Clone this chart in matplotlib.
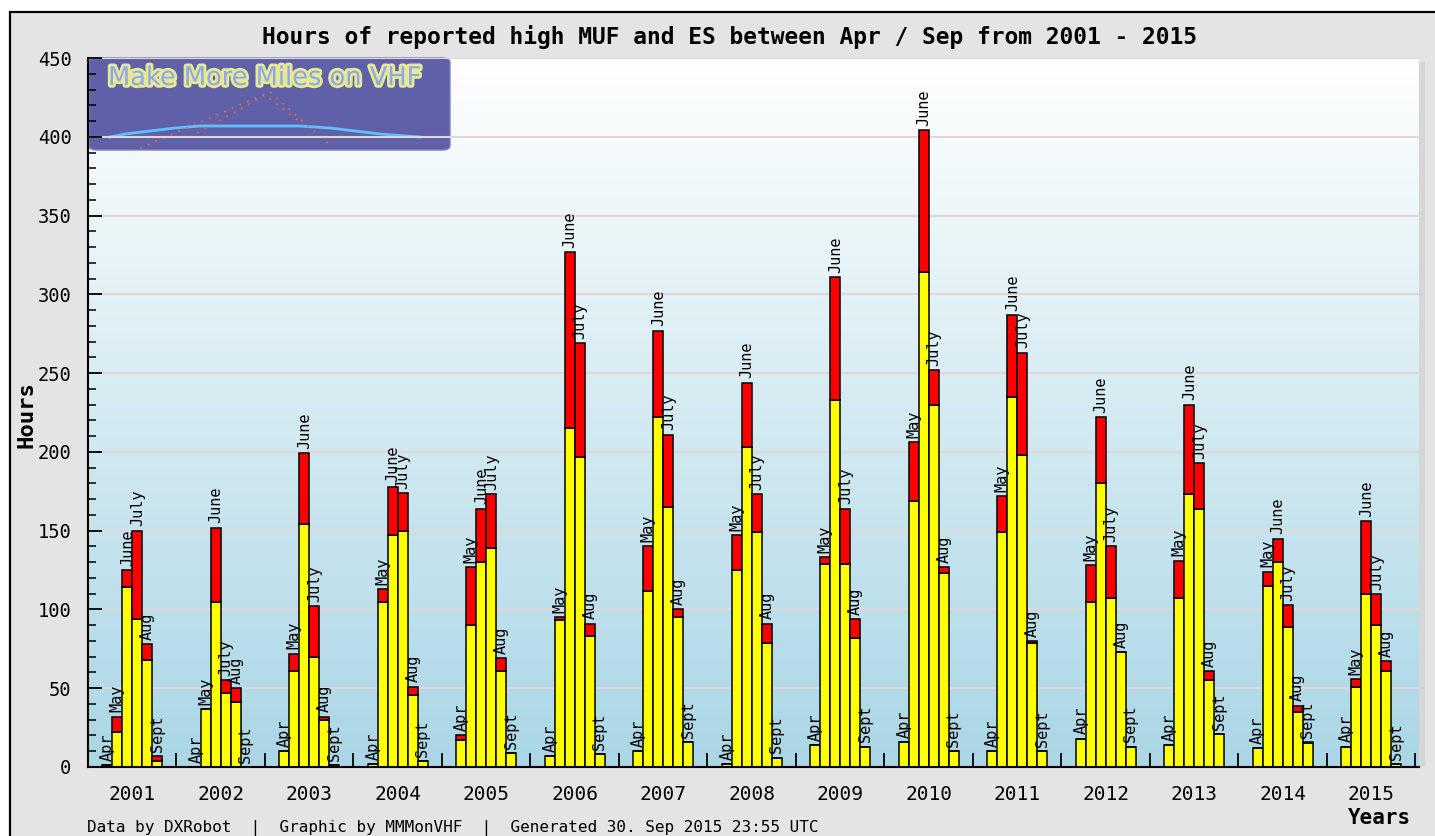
import numpy as np
import matplotlib
matplotlib.use("Agg")
import matplotlib.pyplot as plt
from matplotlib.colors import LinearSegmentedColormap
from matplotlib.patches import Rectangle, FancyBboxPatch
from matplotlib.lines import Line2D
import matplotlib.patheffects as pe

years = ["2001", "2002", "2003", "2004", "2005", "2006", "2007", "2008",
         "2009", "2010", "2011", "2012", "2013", "2014", "2015"]
months = ["Apr", "May", "June", "July", "Aug", "Sept"]

# yellow part of each bar (Apr..Sept)
yellow_hours = [
    [1, 22, 114, 94, 68, 4],
    [0, 37, 105, 47, 41, 0],
    [10, 61, 154, 70, 30, 1],
    [2, 105, 147, 150, 46, 4],
    [17, 90, 130, 139, 61, 9],
    [7, 93, 215, 197, 83, 8],
    [10, 112, 222, 165, 95, 16],
    [2, 125, 203, 149, 79, 6],
    [14, 129, 233, 129, 82, 13],
    [16, 169, 314, 230, 123, 10],
    [10, 149, 235, 198, 79, 10],
    [18, 105, 180, 107, 73, 13],
    [14, 107, 173, 164, 55, 21],
    [12, 115, 130, 89, 35, 15],
    [13, 51, 110, 90, 61, 2],
]
# red part stacked on top
red_hours = [
    [0, 10, 11, 56, 10, 3],
    [0, 0, 47, 8, 9, 0],
    [0, 11, 45, 32, 2, 0],
    [0, 8, 31, 24, 5, 0],
    [3, 37, 34, 34, 8, 0],
    [0, 2, 112, 72, 8, 0],
    [0, 28, 55, 46, 5, 0],
    [0, 22, 41, 24, 12, 0],
    [0, 4, 78, 35, 12, 0],
    [0, 37, 90, 22, 4, 0],
    [0, 23, 52, 65, 1, 0],
    [0, 23, 42, 33, 0, 0],
    [0, 24, 57, 29, 6, 0],
    [0, 9, 15, 14, 4, 1],
    [0, 5, 46, 20, 6, 0],
]
yticks = [0, 50, 100, 150, 200, 250, 300, 350, 400, 450]

W, H = 1435, 836
mono = "DejaVu Sans Mono"

fig = plt.figure(figsize=(W / 100, H / 100), dpi=100, facecolor="white")

def fx(x): return x / W
def fy(y): return 1 - y / H

# outer grey panel with black border
fig.add_artist(Rectangle((fx(10), fy(900)), 1500 / W, 888 / H, transform=fig.transFigure,
                         facecolor="#e4e4e4", edgecolor="black", lw=1.6, zorder=-10))
# faint shadow right of plot area
fig.add_artist(Rectangle((fx(1419), fy(767)), 6 / W, 705 / H, transform=fig.transFigure,
                         facecolor="#d6d6d6", edgecolor="none", zorder=-9))

ax = fig.add_axes([fx(88), fy(767), (1419 - 88) / W, (767 - 58) / H])
ax.set_facecolor("none")

xmin, xmax = -0.5, 14.54
ymin, ymax = 0, 450

# gradient background
cmap = LinearSegmentedColormap.from_list("bg", ["#aad6e5", "#ffffff"])
ax.imshow(np.linspace(0, 1, 256).reshape(-1, 1), cmap=cmap, origin="lower",
          extent=(xmin, xmax, ymin, ymax), aspect="auto", zorder=0)

yel = np.array(yellow_hours, dtype=float)
red = np.array(red_hours, dtype=float)
bw = 0.113
for j, m in enumerate(months):
    x = np.arange(len(years)) + (j - 2.5) * bw
    ax.bar(x, yel[:, j], width=bw, color="#ffff00", edgecolor="black", lw=1.1, zorder=3)
    ax.bar(x, red[:, j], width=bw, bottom=yel[:, j], color="#ff0000",
           edgecolor="black", lw=1.1, zorder=3)
    for xi, top in zip(x, yel[:, j] + red[:, j]):
        ax.annotate(m, (xi, top), xytext=(0, 3), textcoords="offset points",
                    rotation=90, ha="center", va="bottom", fontsize=11,
                    family=mono, zorder=4)

ax.set_xlim(xmin, xmax)
ax.set_ylim(ymin, ymax)

ax.set_yticks(yticks)
ax.set_yticks(np.arange(0, 451, 10), minor=True)
ax.yaxis.grid(True, color="#e2d6d6", lw=1.5, zorder=1)
ax.set_axisbelow(False)
ax.tick_params(axis="y", which="major", direction="in", length=10, width=1.3,
               labelsize=13.5, pad=12)
ax.tick_params(axis="y", which="minor", direction="in", length=6, width=1.1)
for t in ax.get_yticklabels():
    t.set_family(mono)

ax.set_xticks(np.arange(len(years)))
ax.set_xticklabels(years, family=mono, fontsize=14)
ax.set_xticks(np.arange(len(years)) + 0.5, minor=True)
ax.tick_params(axis="x", which="major", length=0, pad=13)
ax.tick_params(axis="x", which="minor", direction="in", length=10, width=1.3)

for s in ["top", "right"]:
    ax.spines[s].set_visible(False)
for s in ["left", "bottom"]:
    ax.spines[s].set_linewidth(1.5)
    ax.spines[s].set_zorder(5)

# logo box
def ax_pt(x, y):
    return ((x - 88) / 1331, (767 - y) / 709)

bx0, by0 = ax_pt(89, 150)
bx1, by1 = ax_pt(450, 58)
ax.add_patch(FancyBboxPatch((bx0, by0), bx1 - bx0, by1 - by0,
                            boxstyle="round,pad=0,rounding_size=0.006",
                            transform=ax.transAxes, facecolor="#6060a8",
                            edgecolor="#8080b8", lw=1, zorder=0.5, clip_on=False))
lx, ly = ax_pt(265, 78)
ax.text(lx, ly, "Make More Miles on VHF", transform=ax.transAxes, ha="center",
        va="center", fontsize=18.5, color="#8aa8f0", family="DejaVu Sans",
        zorder=0.6,
        path_effects=[pe.withStroke(linewidth=4, foreground="#e8e890")])
arc_px = [(110, 137), (125, 134), (150, 131), (175, 128), (200, 126), (300, 126),
          (330, 128), (355, 131), (380, 134), (420, 137)]
ax.add_line(Line2D([ax_pt(*p)[0] for p in arc_px], [ax_pt(*p)[1] for p in arc_px],
                   transform=ax.transAxes, color="#60c0ff", lw=2, zorder=0.6))
dots_a = [(140, 148), (270, 92), (330, 145)]
dots_b = [(190, 137), (265, 95), (300, 122)]
for pts in (dots_a, dots_b):
    ax.add_line(Line2D([ax_pt(*p)[0] for p in pts], [ax_pt(*p)[1] for p in pts],
                       transform=ax.transAxes, color="#ff6040", lw=1.2,
                       ls=(0, (1, 4)), zorder=0.6))

fig.text(fx(730), fy(37), "Hours of reported high MUF and ES between Apr / Sep from 2001 - 2015",
         ha="center", va="center", fontsize=16.5, fontweight="bold", family=mono)
fig.text(fx(26), fy(415), "Hours", rotation=90, ha="center", va="center",
         fontsize=16, fontweight="bold", family=mono)
fig.text(fx(1380), fy(818), "Years", ha="center", va="center",
         fontsize=15, fontweight="bold", family=mono)
fig.text(fx(87), fy(828), "Data by DXRobot  |  Graphic by MMMonVHF  |  Generated 30. Sep 2015 23:55 UTC",
         ha="left", va="center", fontsize=11.5, family=mono)

fig.savefig("out.png", dpi=100, facecolor=fig.get_facecolor())
